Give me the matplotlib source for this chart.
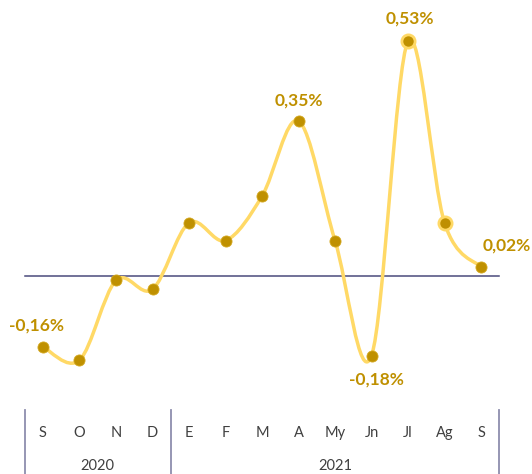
import matplotlib
matplotlib.use("Agg")
import matplotlib.pyplot as plt
import matplotlib.transforms as mtransforms
from matplotlib.path import Path
from matplotlib.patches import PathPatch
import numpy as np


# ------------------------------------------------------------
# Data
# ------------------------------------------------------------

MONTHS = ["S", "O", "N", "D", "E", "F", "M", "A", "My", "Jn", "Jl", "Ag", "S"]
VALUES = [-0.16, -0.19, -0.01, -0.03, 0.12, 0.08, 0.18, 0.35, 0.08, -0.18, 0.53, 0.12, 0.02]
YEARS = ["2020", "2021"]
YEAR_SPANS = [(0, 3), (4, 12)]
LABELLED = {0: "-0,16%", 7: "0,35%", 9: "-0,18%", 10: "0,53%", 12: "0,02%"}
HALO = [10, 11]

LINE_COLOR = "#FFD966"
MARKER_COLOR = "#BF9000"
LABEL_COLOR = "#BF9000"
AXIS_COLOR = "#4A4A7C"
SEP_COLOR = "#8E8EAE"
TEXT_COLOR = "#404040"

plt.rcParams["font.family"] = ["Lato", "DejaVu Sans"]


def smooth_path(xs, ys):
    """Catmull-Rom style bezier path, like Excel's smoothed line."""
    pts = np.column_stack([xs, ys]).astype(float)
    n = len(pts)
    verts = [pts[0]]
    codes = [Path.MOVETO]
    for i in range(n - 1):
        p0 = pts[max(i - 1, 0)]
        p1 = pts[i]
        p2 = pts[i + 1]
        p3 = pts[min(i + 2, n - 1)]
        c1 = p1 + (p2 - p0) / 6.0
        c2 = p2 - (p3 - p1) / 6.0
        verts += [c1, c2, p2]
        codes += [Path.CURVE4] * 3
    return Path(verts, codes)


fig = plt.figure(figsize=(5.32, 4.74), dpi=100)
ax = fig.add_axes([0, 0, 1, 1])
ax.set_xlim(-1.178, 13.397)
ax.set_ylim(-0.447, 0.623)
ax.axis("off")

x = np.arange(len(VALUES))

# zero line
ax.plot([-0.5, len(VALUES) - 0.5], [0, 0], color=AXIS_COLOR, linewidth=1.1, zorder=1)

# smoothed line
ax.add_patch(PathPatch(smooth_path(x, VALUES), fill=False,
                       edgecolor=LINE_COLOR, linewidth=2.5, zorder=2,
                       capstyle="round", joinstyle="round"))

# markers
for i, v in enumerate(VALUES):
    if i in HALO:
        ax.plot(i, v, "o", markersize=9.5, color=MARKER_COLOR,
                markeredgecolor=LINE_COLOR, markeredgewidth=2.0, zorder=3)
    else:
        ax.plot(i, v, "o", markersize=8, color=MARKER_COLOR,
                markeredgecolor="#D4A820", markeredgewidth=0.6, zorder=3)

# data labels (offsets in pixels)
offsets = {0: (-6, 21), 7: (0, 20), 9: (5, -24), 10: (2, 23), 12: (26, 22)}
for i, text in LABELLED.items():
    dx, dy = offsets[i]
    ax.annotate(text, (i, VALUES[i]), xytext=(dx * 0.72, dy * 0.72),
                textcoords="offset points", ha="center", va="center",
                fontsize=12.5, fontweight="bold", color=LABEL_COLOR)

# category axis
trans = mtransforms.blended_transform_factory(ax.transData, ax.transAxes)
for i, m in enumerate(MONTHS):
    ax.text(i, 0.086, m, transform=trans, ha="center", va="center",
            fontsize=10.5, color=TEXT_COLOR)

for (a, b), yr in zip(YEAR_SPANS, YEARS):
    ax.text((a + b) / 2, 0.017, yr, transform=trans, ha="center", va="center",
            fontsize=10.5, color=TEXT_COLOR)

for sx in [-0.5, 3.5, 12.5]:
    ax.plot([sx, sx], [0, 0.135], transform=trans, color=SEP_COLOR,
            linewidth=1.3, clip_on=False)

fig.savefig("out.png", dpi=100)
